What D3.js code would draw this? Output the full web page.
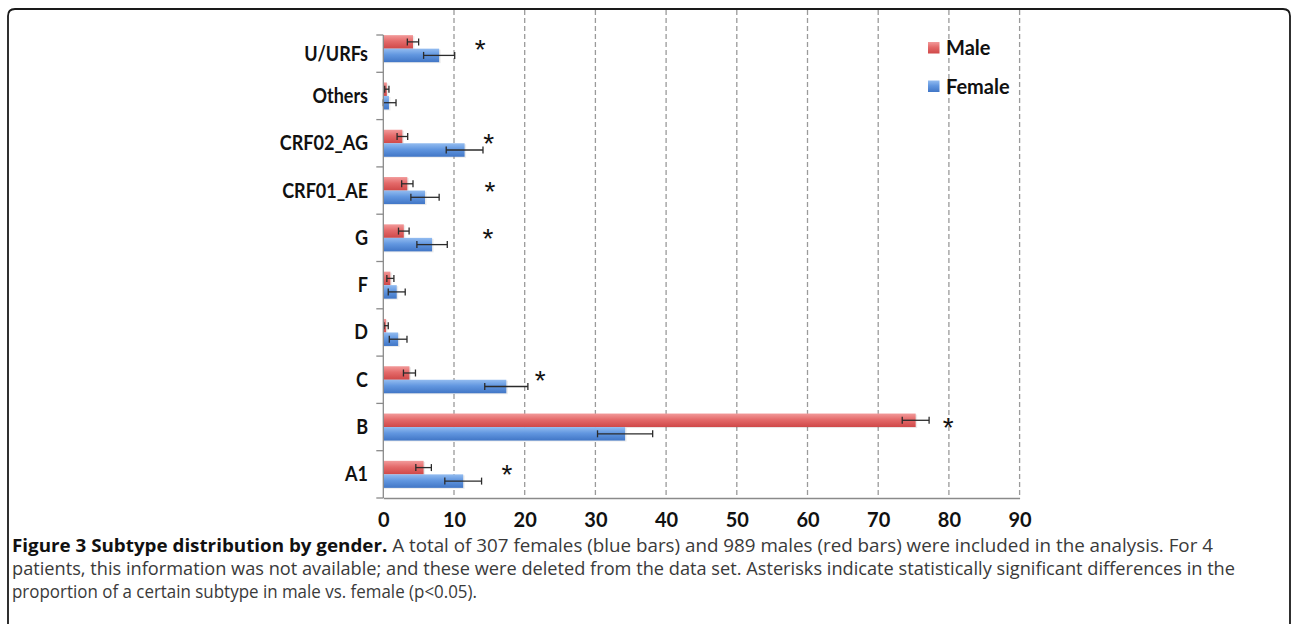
<!DOCTYPE html>
<html>
<head>
<meta charset="utf-8">
<script src="https://cdn.jsdelivr.net/npm/d3@7"></script>
<style>
    body { margin: 0; background: #fff; }
    svg { display: block; }
</style>
</head>
<body>
<div id="chart"></div>
<script>
// Subtypes, top to bottom as drawn
const categories = ['U/URFs', 'Others', 'CRF02_AG', 'CRF01_AE', 'G', 'F', 'D', 'C', 'B', 'A1'];

// Percent of patients, with error bar half widths
const maleValues = [4.2, 0.5, 2.7, 3.4, 2.9, 1.0, 0.4, 3.7, 75.3, 5.7];
const maleErrors = [0.8, 0.3, 0.75, 0.8, 0.75, 0.5, 0.3, 0.85, 1.9, 1.1];
const femaleValues = [7.9, 0.8, 11.5, 5.9, 6.9, 1.9, 2.1, 17.4, 34.2, 11.3];
const femaleErrors = [2.2, 1.0, 2.6, 2.0, 2.15, 1.2, 1.25, 3.05, 3.9, 2.6];

// Where the significance asterisk sits (x value), null = not significant
const asteriskAt = [13.7, null, 14.9, 15.1, 14.8, null, null, 22.2, 79.9, 17.5];

const xTicks = [0, 10, 20, 30, 40, 50, 60, 70, 80, 90];
const seriesNames = ['Male', 'Female'];

const captionBold = 'Figure 3 Subtype distribution by gender.';
const captionLines = [
    ' A total of 307 females (blue bars) and 989 males (red bars) were included in the analysis. For 4',
    'patients, this information was not available; and these were deleted from the data set. Asterisks indicate statistically significant differences in the',
    'proportion of a certain subtype in male vs. female (p<0.05).'
];
// measured line widths in the original figure
const captionWidths = [1201, 1223, 465];

const width = 1292;
const height = 624;
const labelFont = 'Lato, "Open Sans", sans-serif';

const svg = d3.select('#chart').append('svg')
    .attr('width', width)
    .attr('height', height)
    .attr('viewBox', [0, 0, width, height]);

// gradients for the bars
const defs = svg.append('defs');
function addGradient(id, stops) {
    const g = defs.append('linearGradient')
        .attr('id', id)
        .attr('x1', 0).attr('y1', 0).attr('x2', 0).attr('y2', 1);
    stops.forEach(([o, c]) => g.append('stop').attr('offset', o).attr('stop-color', c));
}
addGradient('gradMale', [[0, '#f29a9a'], [0.45, '#e46a6a'], [1, '#cf4848']]);
addGradient('gradFemale', [[0, '#93bcf0'], [0.45, '#6297e0'], [1, '#4176c6']]);

// outer frame with rounded top corners
svg.append('path')
    .attr('d', `M8,${height + 5} L8,16 Q8,9 15,9 L1283,9 Q1290,9 1290,16 L1290,${height + 5}`)
    .attr('fill', 'none')
    .attr('stroke', '#1a1a1a')
    .attr('stroke-width', 1.8);

// scales
const x = d3.scaleLinear().domain([0, 90]).range([383.3, 1019.6]);
const y = d3.scaleBand().domain(categories).range([25, 498]).padding(0);
const sub = d3.scaleBand().domain(seriesNames).range([0, y.bandwidth()]).paddingInner(0).paddingOuter(0.75);

const plotTop = 35;
const axisY = 498;

// dashed gridlines
svg.append('g')
    .selectAll('line')
    .data(xTicks.slice(1))
    .join('line')
    .attr('x1', d => x(d)).attr('x2', d => x(d))
    .attr('y1', 10).attr('y2', axisY)
    .attr('stroke', '#9a9a9a')
    .attr('stroke-width', 1.3)
    .attr('stroke-dasharray', '5,3');

// bars
const rows = categories.map((c, i) => ({
    cat: c,
    bars: [
        {name: 'Male', value: maleValues[i], err: maleErrors[i], fill: 'url(#gradMale)'},
        {name: 'Female', value: femaleValues[i], err: femaleErrors[i], fill: 'url(#gradFemale)'}
    ]
}));

const group = svg.append('g')
    .selectAll('g')
    .data(rows)
    .join('g')
    .attr('transform', d => `translate(0,${y(d.cat)})`);

// soft shadow behind each bar
group.selectAll('rect.shadow')
    .data(d => d.bars)
    .join('rect')
    .attr('class', 'shadow')
    .attr('x', x(0))
    .attr('y', d => sub(d.name) + 1)
    .attr('width', d => x(d.value) - x(0) + 1.5)
    .attr('height', sub.bandwidth())
    .attr('fill', '#000')
    .attr('opacity', 0.08);

group.selectAll('rect.bar')
    .data(d => d.bars)
    .join('rect')
    .attr('class', 'bar')
    .attr('x', x(0))
    .attr('y', d => sub(d.name))
    .attr('width', d => x(d.value) - x(0))
    .attr('height', sub.bandwidth())
    .attr('fill', d => d.fill);

// error bars
const err = group.selectAll('g.err')
    .data(d => d.bars)
    .join('g')
    .attr('class', 'err')
    .attr('transform', d => `translate(0,${sub(d.name) + sub.bandwidth() / 2})`)
    .attr('stroke', '#2b2b2b')
    .attr('stroke-width', 1.3);

err.append('line')
    .attr('x1', d => x(Math.max(0, d.value - d.err)))
    .attr('x2', d => x(d.value + d.err));
err.append('line')
    .attr('x1', d => x(Math.max(0, d.value - d.err)))
    .attr('x2', d => x(Math.max(0, d.value - d.err)))
    .attr('y1', -3.5).attr('y2', 3.5);
err.append('line')
    .attr('x1', d => x(d.value + d.err))
    .attr('x2', d => x(d.value + d.err))
    .attr('y1', -3.5).attr('y2', 3.5);

// asterisks
svg.append('g')
    .selectAll('text')
    .data(categories.map((c, i) => ({cat: c, at: asteriskAt[i]})).filter(d => d.at !== null))
    .join('text')
    .attr('x', d => x(d.at))
    .attr('y', d => y(d.cat) + y.bandwidth() / 2 + 10)
    .attr('text-anchor', 'middle')
    .attr('font-family', '"Liberation Sans", Arial, sans-serif')
    .attr('font-size', 28)
    .attr('fill', '#111')
    .text('*');

// y axis: line, ticks at band edges, labels
const yAxis = svg.append('g');
yAxis.append('line')
    .attr('x1', x(0)).attr('x2', x(0))
    .attr('y1', plotTop).attr('y2', axisY)
    .attr('stroke', '#8a8a8a').attr('stroke-width', 1.3);
const edges = [plotTop].concat(categories.map(c => y(c) + y.bandwidth()));
yAxis.selectAll('line.tick')
    .data(edges)
    .join('line')
    .attr('class', 'tick')
    .attr('x1', x(0) - 7).attr('x2', x(0))
    .attr('y1', d => d).attr('y2', d => d)
    .attr('stroke', '#8a8a8a').attr('stroke-width', 1.3);
yAxis.selectAll('text')
    .data(categories)
    .join('text')
    .attr('x', 368)
    .attr('y', d => y(d) + y.bandwidth() / 2 + (d === 'U/URFs' ? 5 : 0))
    .attr('dy', '0.35em')
    .attr('text-anchor', 'end')
    .attr('font-family', labelFont)
    .attr('font-weight', 'bold')
    .attr('font-size', 20)
    .attr('fill', '#111')
    .text(d => d)
    // the original face is narrower than Lato
    .attr('textLength', function() { return this.getComputedTextLength() * 0.9; })
    .attr('lengthAdjust', 'spacingAndGlyphs');

// x axis
const xAxis = svg.append('g')
    .attr('transform', `translate(0,${axisY})`)
    .call(d3.axisBottom(x).tickValues(xTicks).tickSize(0).tickPadding(15));
xAxis.select('.domain').attr('stroke', '#8a8a8a').attr('stroke-width', 1.3);
xAxis.selectAll('text')
    .attr('font-family', labelFont)
    .attr('font-weight', 'bold')
    .attr('font-size', 20)
    .attr('fill', '#111');

// legend
const legend = svg.append('g').attr('transform', 'translate(928,42)');
seriesNames.forEach((name, i) => {
    const item = legend.append('g').attr('transform', `translate(0,${i * 38.5})`);
    item.append('rect')
        .attr('width', 11.5).attr('height', 11.5)
        .attr('fill', name === 'Male' ? 'url(#gradMale)' : 'url(#gradFemale)');
    item.append('text')
        .attr('x', 18).attr('y', 6)
        .attr('dy', '0.35em')
        .attr('font-family', labelFont)
        .attr('font-weight', 'bold')
        .attr('font-size', 20)
        .attr('fill', '#111')
        .text(name);
});

// caption
const caption = svg.append('g')
    .attr('font-family', '"Open Sans", Lato, sans-serif')
    .attr('font-size', 18);
captionLines.forEach((line, i) => {
    const t = caption.append('text')
        .attr('x', 12)
        .attr('y', 552 + i * 23)
        .attr('fill', '#3a3a3a')
        .attr('textLength', captionWidths[i])
        .attr('lengthAdjust', 'spacingAndGlyphs');
    if (i === 0) {
        t.append('tspan').attr('font-weight', 'bold').attr('fill', '#111').text(captionBold);
    }
    t.append('tspan').text(line);
});
</script>
</body>
</html>
